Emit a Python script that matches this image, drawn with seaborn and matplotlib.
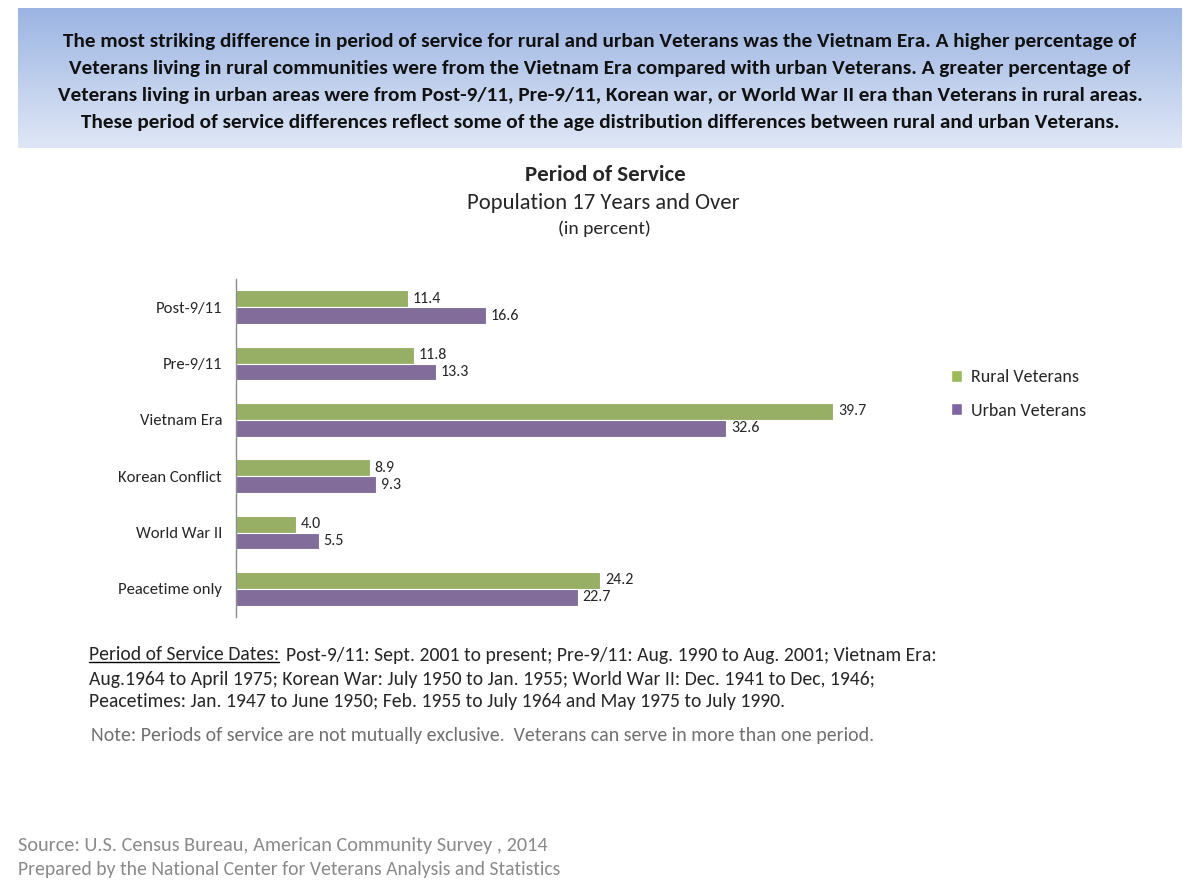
import numpy as np
import pandas as pd
import matplotlib
matplotlib.use('Agg')
import matplotlib.pyplot as plt
from matplotlib.patches import Patch
from matplotlib.colors import LinearSegmentedColormap
import seaborn as sns

# Data
periods = ['Post-9/11', 'Pre-9/11', 'Vietnam Era', 'Korean Conflict', 'World War II', 'Peacetime only']
rural = [11.4, 11.8, 39.7, 8.9, 4.0, 24.2]
urban = [16.6, 13.3, 32.6, 9.3, 5.5, 22.7]
groups = ['Rural Veterans', 'Urban Veterans']
colors = ['#9BBB59', '#8064A2']

df = pd.DataFrame({
    'period': periods * 2,
    'pct': rural + urban,
    'group': [groups[0]] * len(periods) + [groups[1]] * len(periods),
})

sns.set_style('white')
plt.rcParams['font.family'] = ['Carlito', 'Lato', 'DejaVu Sans']

fig = plt.figure(figsize=(12, 8.92), dpi=100)

# banner with vertical gradient
bax = fig.add_axes([18 / 1200, 1 - 148 / 892, 1164 / 1200, 140 / 892])
grad = np.linspace(0, 1, 256).reshape(-1, 1)
cmap = LinearSegmentedColormap.from_list('banner', ['#9BB4E2', '#DFE7F6'])
bax.imshow(grad, aspect='auto', cmap=cmap, extent=[0, 1, 0, 1])
bax.set_axis_off()
banner = ('The most striking difference in period of service for rural and urban Veterans was the Vietnam Era. A higher percentage of\n'
          'Veterans living in rural communities were from the Vietnam Era compared with urban Veterans. A greater percentage of\n'
          'Veterans living in urban areas were from Post-9/11, Pre-9/11, Korean war, or World War II era than Veterans in rural areas.\n'
          'These period of service differences reflect some of the age distribution differences between rural and urban Veterans.')
fig.text(0.5, 1 - 82 / 892, banner, ha='center', va='center', fontsize=15.3, fontweight='bold',
         linespacing=1.72, color='#111111')

# titles
fig.text(605 / 1200, 1 - 175 / 892, 'Period of Service', ha='center', va='center', fontsize=16.5, fontweight='bold')
fig.text(603 / 1200, 1 - 203 / 892, 'Population 17 Years and Over', ha='center', va='center', fontsize=16.3)
fig.text(604 / 1200, 1 - 229 / 892, '(in percent)', ha='center', va='center', fontsize=14)

# main bars
ax = fig.add_axes([236 / 1200, 1 - 617 / 892, 677 / 1200, 338 / 892])
sns.barplot(data=df, y='period', x='pct', hue='group', palette=colors, width=0.6,
            edgecolor='white', linewidth=0.8, ax=ax, legend=False)
ax.set_xlim(0, 45)
ax.set_ylim(5.5, -0.5)
for c in ax.containers:
    ax.bar_label(c, fmt='%.1f', padding=3.5, fontsize=11.5)
ax.set_xlabel('')
ax.set_ylabel('')
ax.set_xticks([])
ax.tick_params(axis='y', length=0, pad=10, labelsize=12)
for s in ['top', 'right', 'bottom']:
    ax.spines[s].set_visible(False)
ax.spines['left'].set_color('#8C8C8C')
ax.spines['left'].set_linewidth(1)

handles = [Patch(facecolor=colors[0], label=groups[0]), Patch(facecolor=colors[1], label=groups[1])]
fig.legend(handles=handles, loc='center left', bbox_to_anchor=(935 / 1200, 1 - 394 / 892), frameon=False,
           fontsize=13, handlelength=0.6, handleheight=0.6, handletextpad=0.5, labelspacing=0.95)

# footnote with underlined lead-in
fig.canvas.draw()
renderer = fig.canvas.get_renderer()
fs = 14.1
x0, y0 = 89 / 1200, 1 - 655 / 892
lead = fig.text(x0, y0, 'Period of Service Dates:', ha='left', va='center', fontsize=fs)
bb = lead.get_window_extent(renderer).transformed(fig.transFigure.inverted())
fig.add_artist(plt.Line2D([bb.x0, bb.x1], [bb.y0 + 0.002, bb.y0 + 0.002], color='black', lw=1,
                          transform=fig.transFigure))
fig.text(bb.x1 + 7 / 1200, y0, 'Post-9/11: Sept. 2001 to present; Pre-9/11: Aug. 1990 to Aug. 2001; Vietnam Era:',
         ha='left', va='center', fontsize=fs)
fig.text(x0, 1 - 679 / 892, 'Aug.1964 to April 1975; Korean War: July 1950 to Jan. 1955; World War II: Dec. 1941 to Dec, 1946;',
         ha='left', va='center', fontsize=fs)
fig.text(x0, 1 - 702 / 892, 'Peacetimes: Jan. 1947 to June 1950; Feb. 1955 to July 1964 and May 1975 to July 1990.',
         ha='left', va='center', fontsize=fs)
fig.text(91 / 1200, 1 - 735 / 892,
         'Note: Periods of service are not mutually exclusive.  Veterans can serve in more than one period.',
         ha='left', va='center', fontsize=14.3, color='#707070')

fig.text(18 / 1200, 1 - 845 / 892, 'Source: U.S. Census Bureau, American Community Survey , 2014',
         ha='left', va='center', fontsize=14.6, color='#8A8A8A')
fig.text(18 / 1200, 1 - 870 / 892, 'Prepared by the National Center for Veterans Analysis and Statistics',
         ha='left', va='center', fontsize=14.1, color='#8A8A8A')

fig.savefig('out.png', dpi=100, facecolor='white')
